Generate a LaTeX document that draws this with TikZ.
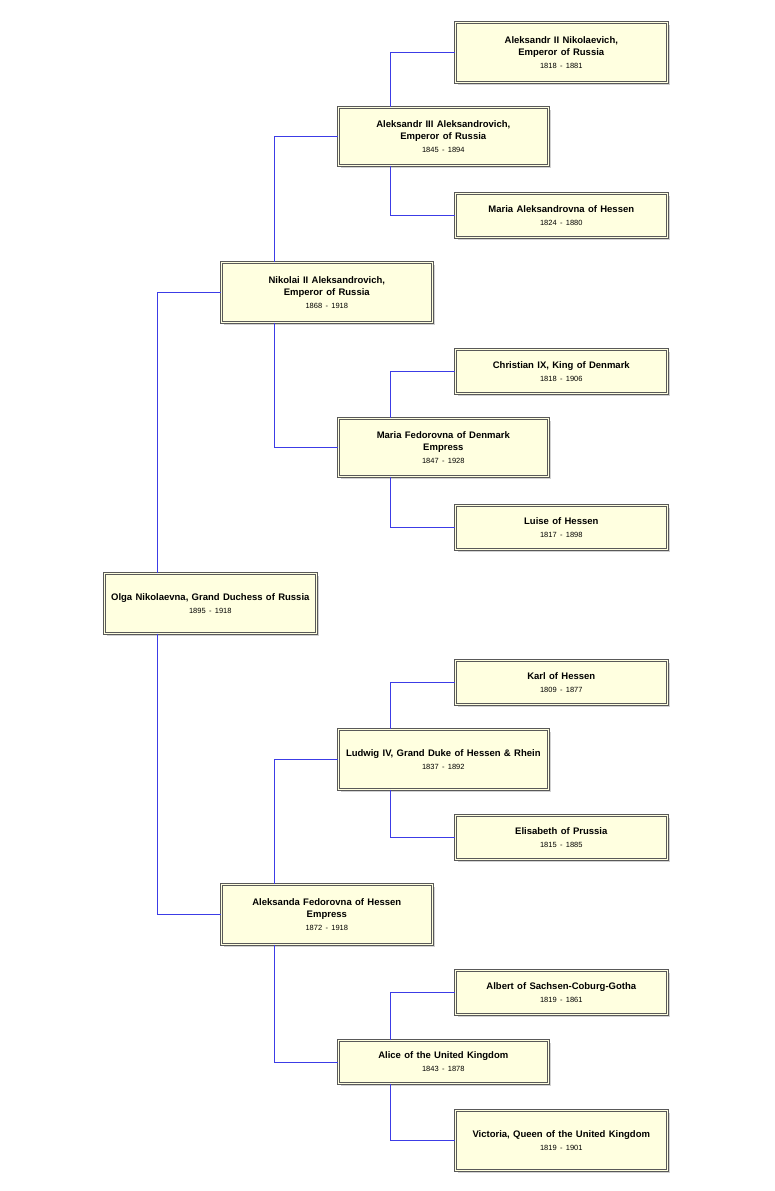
\documentclass[tikz,border=0pt]{standalone}
\usepackage{fontspec}
\setmainfont{Liberation Sans}
\usetikzlibrary{shadows}
\definecolor{boxfill}{HTML}{FFFFE0}
\definecolor{linkblue}{HTML}{3C3CE6}
\newcommand{\who}[2]{{\fontsize{9.5}{11.5}\selectfont\bfseries #1}\\[1pt]{\fontsize{7.5}{9}\selectfont #2}}
\begin{document}
\begin{tikzpicture}[x=1pt, y=-1pt,
    person/.style={anchor=north west, rectangle, draw=black!65, double=boxfill, double distance=1.2pt,
                   fill=boxfill, inner sep=2pt, align=center, line width=0.6pt,
                   drop shadow={shadow xshift=2.5pt, shadow yshift=-2.5pt, fill=black!35}},
    link/.style={draw=linkblue, line width=0.6pt}
]
\useasboundingbox[fill=white] (0,0) rectangle (775,1191);

% Olga
\node[person, minimum width=212, minimum height=60, text width=204] (olga) at (104,573) {\who{Olga Nikolaevna, Grand Duchess of Russia}{1895 - 1918}};

% Parents
\node[person, minimum width=211, minimum height=60, text width=203] (nikolai) at (221,262) {\who{Nikolai II Aleksandrovich,\\Emperor of Russia}{1868 - 1918}};
\node[person, minimum width=211, minimum height=60, text width=203] (alix) at (221,884) {\who{Aleksanda Fedorovna of Hessen\\Empress}{1872 - 1918}};

% Grandparents
\node[person, minimum width=210, minimum height=58, text width=202] (alex3) at (338,107) {\who{Aleksandr III Aleksandrovich,\\Emperor of Russia}{1845 - 1894}};
\node[person, minimum width=210, minimum height=58, text width=202] (dagmar) at (338,418) {\who{Maria Fedorovna of Denmark\\Empress}{1847 - 1928}};
\node[person, minimum width=210, minimum height=60, text width=202] (ludwig) at (338,729) {\who{Ludwig IV, Grand Duke of Hessen \& Rhein}{1837 - 1892}};
\node[person, minimum width=210, minimum height=43, text width=202] (alice) at (338,1040) {\who{Alice of the United Kingdom}{1843 - 1878}};

% Great-grandparents
\node[person, minimum width=212, minimum height=60, text width=204] (alex2) at (455,22) {\who{Aleksandr II Nikolaevich,\\Emperor of Russia}{1818 - 1881}};
\node[person, minimum width=212, minimum height=44, text width=204] (mariaA) at (455,193) {\who{Maria Aleksandrovna of Hessen}{1824 - 1880}};
\node[person, minimum width=212, minimum height=44, text width=204] (christian) at (455,349) {\who{Christian IX, King of Denmark}{1818 - 1906}};
\node[person, minimum width=212, minimum height=44, text width=204] (luise) at (455,505) {\who{Luise of Hessen}{1817 - 1898}};
\node[person, minimum width=212, minimum height=44, text width=204] (karl) at (455,660) {\who{Karl of Hessen}{1809 - 1877}};
\node[person, minimum width=212, minimum height=44, text width=204] (elisabeth) at (455,815) {\who{Elisabeth of Prussia}{1815 - 1885}};
\node[person, minimum width=212, minimum height=44, text width=204] (albert) at (455,970) {\who{Albert of Sachsen-Coburg-Gotha}{1819 - 1861}};
\node[person, minimum width=212, minimum height=60, text width=204] (victoria) at (455,1110) {\who{Victoria, Queen of the United Kingdom}{1819 - 1901}};

% Links
\begin{scope}[on background layer/.style={}]
\draw[link] (olga.north west) ++(53,0) |- (nikolai.west);
\draw[link] (olga.south west) ++(53,0) |- (alix.west);
\draw[link] (nikolai.north west) ++(53,0) |- (alex3.west);
\draw[link] (nikolai.south west) ++(53,0) |- (dagmar.west);
\draw[link] (alix.north west) ++(53,0) |- (ludwig.west);
\draw[link] (alix.south west) ++(53,0) |- (alice.west);
\draw[link] (alex3.north west) ++(52,0) |- (alex2.west);
\draw[link] (alex3.south west) ++(52,0) |- (mariaA.west);
\draw[link] (dagmar.north west) ++(52,0) |- (christian.west);
\draw[link] (dagmar.south west) ++(52,0) |- (luise.west);
\draw[link] (ludwig.north west) ++(52,0) |- (karl.west);
\draw[link] (ludwig.south west) ++(52,0) |- (elisabeth.west);
\draw[link] (alice.north west) ++(52,0) |- (albert.west);
\draw[link] (alice.south west) ++(52,0) |- (victoria.west);
\end{scope}
\end{tikzpicture}
\end{document}
